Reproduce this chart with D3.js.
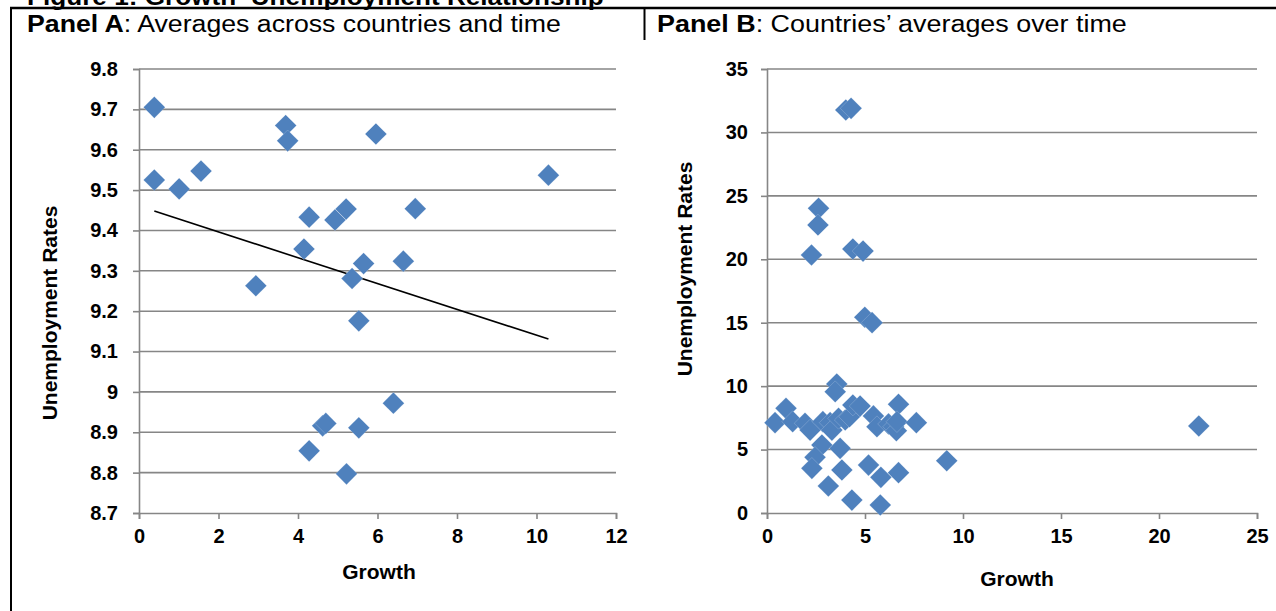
<!DOCTYPE html>
<html>
<head>
<meta charset="utf-8">
<script src="https://cdn.jsdelivr.net/npm/d3@7"></script>
<style>
  body { margin: 0; background: #fff; }
  svg { display: block; }
  text { font-family: Arial, "Liberation Sans", sans-serif; }
</style>
</head>
<body>
<svg id="chart" width="1276" height="611"></svg>
<script>
// Panel A: averages across countries and time
const growthA = [0.385, 0.385, 1.01, 1.56, 3.69, 3.74, 5.96, 10.30, 4.28, 4.93, 5.21, 6.95,
                 4.15, 2.94, 5.65, 5.36, 6.65, 5.53, 6.40, 4.62, 4.70, 5.53, 4.28, 5.22];
const unempA  = [9.705, 9.525, 9.503, 9.547, 9.660, 9.622, 9.639, 9.537, 9.433, 9.426, 9.453, 9.454,
                 9.354, 9.263, 9.318, 9.281, 9.324, 9.176, 8.972, 8.916, 8.922, 8.911, 8.854, 8.797];
// Linear trend line end points
const trendGrowthA = [0.385, 10.30];
const trendUnempA  = [9.448, 9.131];

// Panel B: countries' averages over time
const growthB = [4.02, 4.29, 2.63, 2.60, 2.27, 4.38, 4.90, 4.99, 5.36, 3.56, 3.48,
                 0.41, 0.97, 1.31, 1.94, 2.20, 2.85, 3.22, 3.31, 3.65, 3.99, 4.21, 4.38, 4.75,
                 5.43, 5.61, 6.20, 6.46, 6.60, 6.71, 6.63, 7.62,
                 2.80, 3.73, 2.45, 2.29, 3.82, 5.18, 5.81, 6.71, 9.17, 3.13, 4.33, 5.78, 22.03];
const unempB  = [31.77, 31.90, 24.02, 22.70, 20.34, 20.81, 20.65, 15.43, 15.00, 10.17, 9.56,
                 7.12, 8.25, 7.20, 7.07, 6.54, 7.20, 7.12, 6.54, 7.46, 7.33, 7.59, 8.51, 8.43,
                 7.65, 6.80, 7.02, 6.80, 6.49, 8.57, 7.20, 7.12,
                 5.36, 5.10, 4.39, 3.52, 3.39, 3.78, 2.81, 3.18, 4.12, 2.13, 1.02, 0.63, 6.86];

const ticksAX = [0, 2, 4, 6, 8, 10, 12];
const ticksAY = [8.7, 8.8, 8.9, 9.0, 9.1, 9.2, 9.3, 9.4, 9.5, 9.6, 9.7, 9.8];
const ticksBX = [0, 5, 10, 15, 20, 25];
const ticksBY = [0, 5, 10, 15, 20, 25, 30, 35];

const figureTitle = "Figure 1: Growth\u2013Unemployment Relationship";
const panelATitle = ["Panel A", ": Averages across countries and time"];
const panelBTitle = ["Panel B", ": Countries\u2019 averages over time"];
const xTitle = "Growth";
const yTitle = "Unemployment Rates";

const svg = d3.select("#chart");
const gridColor = "#868686";
const markerColor = "#4F81BD";
const diamond = d3.symbol().type(d3.symbolSquare).size(235);

// Horizontally fit a title to a given width
function fitTitle(sel, width) {
  const w = sel.node().getComputedTextLength();
  const x = +sel.attr("data-x"), y = +sel.attr("data-y");
  sel.attr("transform", `translate(${x},${y}) scale(${width / w},1)`);
}

// Figure title (runs off the top edge)
const ft = svg.append("text")
  .attr("data-x", 27).attr("data-y", 5)
  .attr("font-size", 24).attr("font-weight", "bold").attr("fill", "#000")
  .text(figureTitle);
fitTitle(ft, 577);

// Frame around the panels
svg.append("line").attr("x1", 10).attr("x2", 1276).attr("y1", 8).attr("y2", 8)
  .attr("stroke", "#000").attr("stroke-width", 2.5);
svg.append("line").attr("x1", 11).attr("x2", 11).attr("y1", 7).attr("y2", 611)
  .attr("stroke", "#000").attr("stroke-width", 2);
svg.append("line").attr("x1", 644.5).attr("x2", 644.5).attr("y1", 7).attr("y2", 40)
  .attr("stroke", "#000").attr("stroke-width", 2);

function panelTitle(parts, x, width) {
  const t = svg.append("text").attr("data-x", x).attr("data-y", 32)
    .attr("font-size", 24.5).attr("fill", "#000");
  t.append("tspan").attr("font-weight", "bold").text(parts[0]);
  t.append("tspan").text(parts[1]);
  fitTitle(t, width);
}
panelTitle(panelATitle, 27, 534);
panelTitle(panelBTitle, 657, 470);

function scatterPanel(cfg) {
  const x = d3.scaleLinear().domain(cfg.xDomain).range(cfg.xRange);
  const y = d3.scaleLinear().domain(cfg.yDomain).range(cfg.yRange);
  const g = svg.append("g");

  // horizontal gridlines
  g.append("g").selectAll("line")
    .data(cfg.yTicks.slice(1))
    .join("line")
    .attr("x1", cfg.xRange[0]).attr("x2", cfg.xRange[1])
    .attr("y1", d => y(d)).attr("y2", d => y(d))
    .attr("stroke", gridColor).attr("stroke-width", 1.6);

  // axes
  const ax = g.append("g").attr("transform", `translate(0,${cfg.yRange[0]})`)
    .call(d3.axisBottom(x).tickValues(cfg.xTicks).tickSize(6).tickPadding(cfg.xPad).tickFormat(d3.format("d")));
  const ay = g.append("g").attr("transform", `translate(${cfg.xRange[0]},0)`)
    .call(d3.axisLeft(y).tickValues(cfg.yTicks).tickSize(6).tickPadding(cfg.yPad).tickFormat(cfg.yFormat));
  [ax, ay].forEach(a => {
    a.select(".domain").attr("stroke", gridColor).attr("stroke-width", 1.6);
    a.selectAll(".tick line").attr("stroke", gridColor).attr("stroke-width", 1.6);
    a.selectAll(".tick text").attr("fill", "#000").attr("font-weight", "bold")
      .attr("font-size", cfg.tickSize).attr("font-family", "Arial, 'Liberation Sans', sans-serif");
  });

  // trend line
  if (cfg.trendX) {
    g.append("path")
      .datum(d3.zip(cfg.trendX, cfg.trendY))
      .attr("d", d3.line().x(d => x(d[0])).y(d => y(d[1])))
      .attr("fill", "none").attr("stroke", "#000").attr("stroke-width", 1.6);
  }

  // diamond markers
  g.append("g").selectAll("path")
    .data(d3.zip(cfg.xs, cfg.ys))
    .join("path")
    .attr("d", diamond)
    .attr("transform", d => `translate(${x(d[0])},${y(d[1])}) rotate(45)`)
    .attr("fill", markerColor)
    .attr("stroke", "#ffffff").attr("stroke-opacity", 0.35).attr("stroke-width", 0.5);

  // axis titles
  g.append("text")
    .attr("x", cfg.xTitlePos[0]).attr("y", cfg.xTitlePos[1])
    .attr("text-anchor", "middle").attr("font-weight", "bold").attr("font-size", cfg.titleSize)
    .text(xTitle);
  g.append("text")
    .attr("transform", `translate(${cfg.yTitlePos[0]},${cfg.yTitlePos[1]}) rotate(-90)`)
    .attr("text-anchor", "middle").attr("font-weight", "bold").attr("font-size", cfg.titleSize)
    .text(yTitle);
}

scatterPanel({
  xs: growthA, ys: unempA,
  xDomain: [0, 12], xRange: [139, 616],
  yDomain: [8.7, 9.8], yRange: [513, 69],
  xTicks: ticksAX, yTicks: ticksAY,
  yFormat: d => String(+d.toFixed(1)), yPad: 15, xPad: 10,
  trendX: trendGrowthA, trendY: trendUnempA,
  tickSize: 20, titleSize: 21,
  xTitlePos: [379, 579], yTitlePos: [57, 313]
});

scatterPanel({
  xs: growthB, ys: unempB,
  xDomain: [0, 25], xRange: [767, 1257],
  yDomain: [0, 35], yRange: [513, 69],
  xTicks: ticksBX, yTicks: ticksBY,
  yFormat: d3.format("d"), yPad: 13, xPad: 10,
  tickSize: 20, titleSize: 21,
  xTitlePos: [1017, 586], yTitlePos: [692, 269]
});
</script>
</body>
</html>
